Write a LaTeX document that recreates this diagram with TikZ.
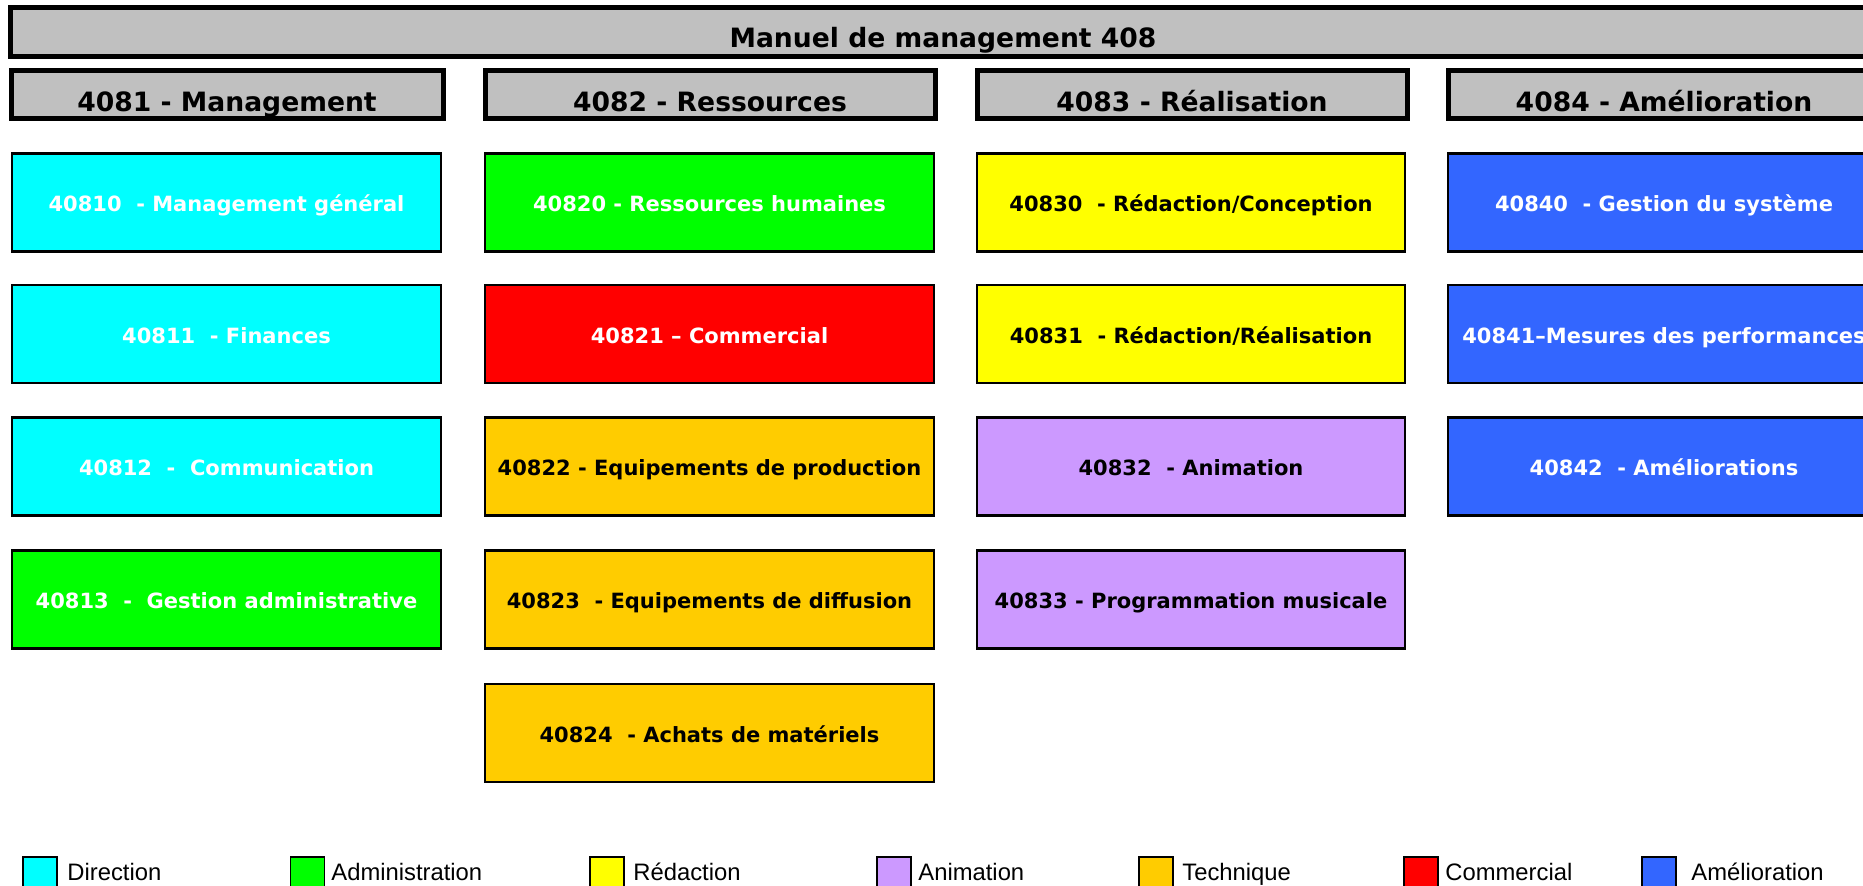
\documentclass[tikz,border=0pt]{standalone}
\usepackage{fontspec}
\setmainfont{DejaVu Sans}
\newfontfamily\legfont{Liberation Sans}
\definecolor{cGrey}{HTML}{C0C0C0}
\definecolor{cCyan}{HTML}{00FFFF}
\definecolor{cGreen}{HTML}{00FF00}
\definecolor{cYellow}{HTML}{FFFF00}
\definecolor{cPurple}{HTML}{CC99FF}
\definecolor{cOrange}{HTML}{FFCC00}
\definecolor{cRed}{HTML}{FF0000}
\definecolor{cBlue}{HTML}{3366FF}
\begin{document}
\begin{tikzpicture}[x=0.5pt,y=-0.5pt,
  bar/.style={draw=black, line width=2.5pt, fill=cGrey, inner sep=0pt,
    text height=14.7pt, text depth=0pt,
    font=\bfseries\fontsize{13.3}{15}\selectfont},
  hdr/.style={bar, minimum height=24pt, text height=16.2pt, text depth=0pt},
  box/.style={draw=black, line width=1.2pt, inner sep=0pt, minimum height=49pt,
    text height=9.2pt, text depth=0pt,
    font=\bfseries\fontsize{10.5}{12}\selectfont},
  colA/.style={minimum width=214.5pt},
  colB/.style={minimum width=224.5pt},
  colC/.style={minimum width=214pt},
  colD/.style={minimum width=216pt},
  wt/.style={text=white},
  legsq/.style={draw=black, line width=0.6pt, minimum width=17pt, minimum height=25pt, inner sep=0pt},
  legtx/.style={anchor=base west, inner sep=0pt, font=\legfont\fontsize{11.9}{14}\selectfont}
]
\useasboundingbox (0,0) rectangle (1863,886);
\clip (0,0) rectangle (1863,886);

% title bar
\node[bar, minimum width=933pt, minimum height=24.5pt] (title) at (943,32.5) {Manuel de management 408};

% column headers
\node[hdr, minimum width=216pt] (h1) at (227,95) {4081 - Management};
\node[hdr, minimum width=225pt] (h2) at (710,95) {4082 - Ressources};
\node[hdr, minimum width=215pt] (h3) at (1192,95) {4083 - Réalisation};
\node[hdr, minimum width=216pt] (h4) at (1664,95) {4084 - Amélioration};

% column 1
\node[box, colA, fill=cCyan, wt]  (b40810) at (226.5,202.5) {40810~ - Management général};
\node[box, colA, fill=cCyan, wt]  (b40811) at (226.5,334) {40811~ - Finances};
\node[box, colA, fill=cCyan, wt]  (b40812) at (226.5,466.5) {40812~ - ~Communication};
\node[box, colA, fill=cGreen, wt] (b40813) at (226.5,599.5) {40813~ - ~Gestion administrative};

% column 2
\node[box, colB, fill=cGreen, wt] (b40820) at (709.5,202.5) {40820 - Ressources humaines};
\node[box, colB, fill=cRed, wt]   (b40821) at (709.5,334) {40821 – Commercial};
\node[box, colB, fill=cOrange]    (b40822) at (709.5,466.5) {40822 - Equipements de production};
\node[box, colB, fill=cOrange]    (b40823) at (709.5,599.5) {40823~ - Equipements de diffusion};
\node[box, colB, fill=cOrange]    (b40824) at (709.5,733) {40824~ - Achats de matériels};

% column 3
\node[box, colC, fill=cYellow] (b40830) at (1191,202.5) {40830~ - Rédaction/Conception};
\node[box, colC, fill=cYellow] (b40831) at (1191,334) {40831~ - Rédaction/Réalisation};
\node[box, colC, fill=cPurple] (b40832) at (1191,466.5) {40832~ - Animation};
\node[box, colC, fill=cPurple] (b40833) at (1191,599.5) {40833 - Programmation musicale};

% column 4
\node[box, colD, fill=cBlue, wt] (b40840) at (1664,202.5) {40840~ - Gestion du système};
\node[box, colD, fill=cBlue, wt] (b40841) at (1664,334) {40841–Mesures des performances};
\node[box, colD, fill=cBlue, wt] (b40842) at (1664,466.5) {40842~ - Améliorations};

% legend
\node[legsq, fill=cCyan]   (l1) at (40,882) {};
\node[legsq, fill=cGreen]  (l2) at (307.5,882) {};
\node[legsq, fill=cYellow] (l3) at (607,882) {};
\node[legsq, fill=cPurple] (l4) at (894,882) {};
\node[legsq, fill=cOrange] (l5) at (1156,882) {};
\node[legsq, fill=cRed]    (l6) at (1421,882) {};
\node[legsq, fill=cBlue]   (l7) at (1659,882) {};
\node[legtx] (t1) at (67,880) {Direction};
\node[legtx] (t2) at (331,880) {Administration};
\node[legtx] (t3) at (633,880) {Rédaction};
\node[legtx] (t4) at (918,880) {Animation};
\node[legtx] (t5) at (1182,880) {Technique};
\node[legtx] (t6) at (1445,880) {Commercial};
\node[legtx] (t7) at (1691,880) {Amélioration};
\end{tikzpicture}
\end{document}
